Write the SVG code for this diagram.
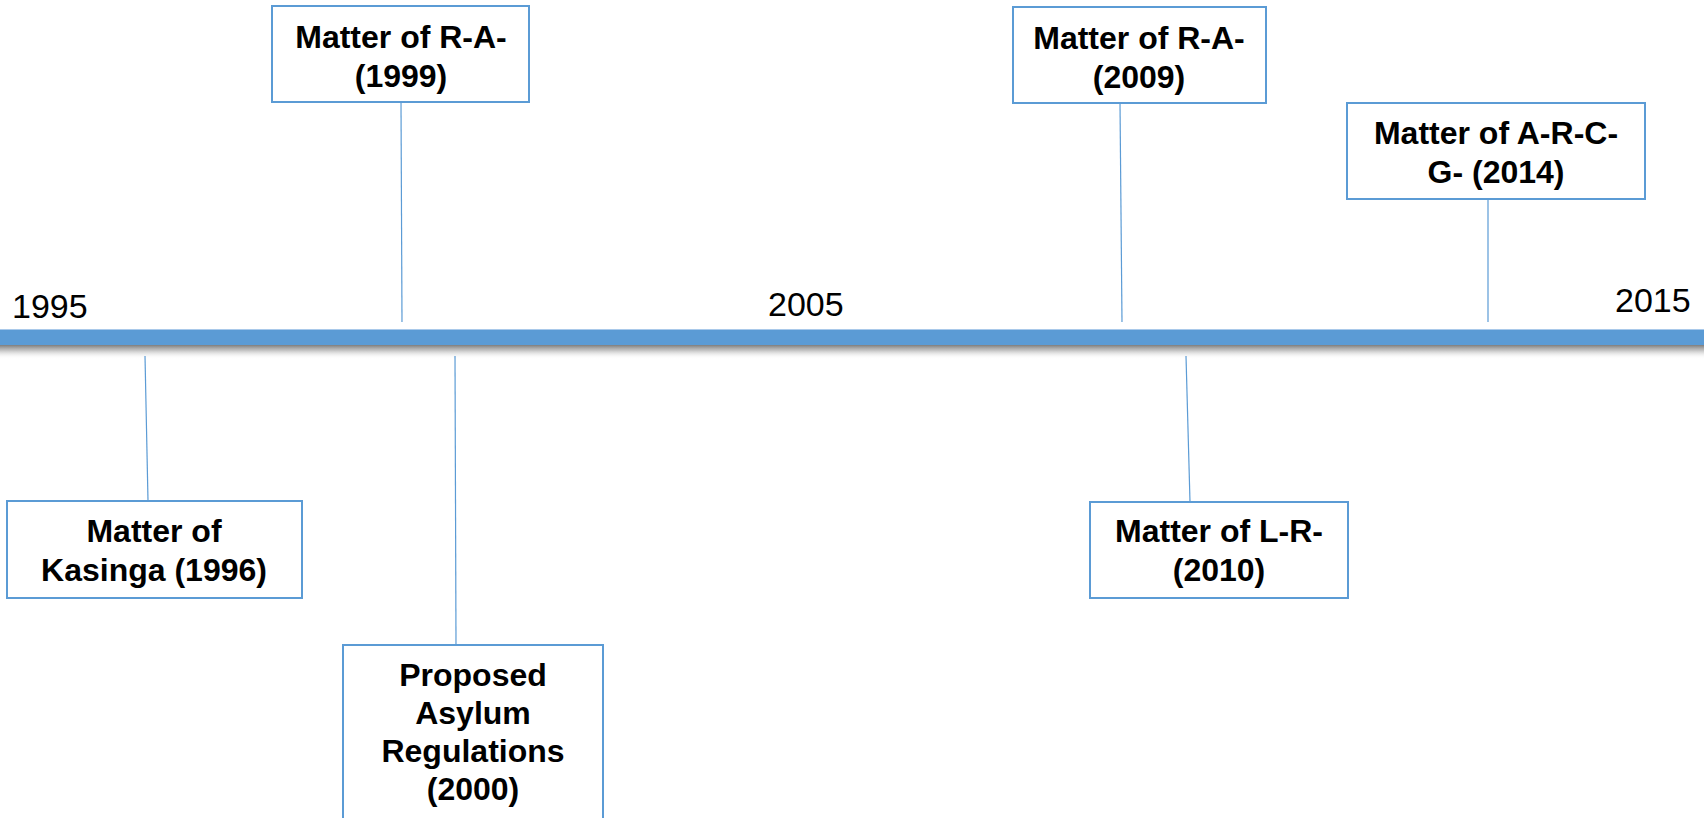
<svg xmlns="http://www.w3.org/2000/svg" width="1704" height="818" viewBox="0 0 1704 818">
  <defs>
    <linearGradient id="shadow" x1="0" y1="0" x2="0" y2="1">
      <stop offset="0" stop-color="#6f6f6f" stop-opacity="0.9"/>
      <stop offset="0.4" stop-color="#a0a0a0" stop-opacity="0.6"/>
      <stop offset="1" stop-color="#ffffff" stop-opacity="0"/>
    </linearGradient>
    <style>
      .box { fill: #ffffff; stroke: #5b9bd5; stroke-width: 2; }
      .conn { stroke: #5b9bd5; stroke-width: 1.2; fill: none; }
      .lbl { font-family: "Liberation Sans", Arial, sans-serif; font-weight: bold; font-size: 32px; fill: #000000; text-anchor: middle; }
      .year { font-family: "Liberation Sans", Arial, sans-serif; font-size: 34px; fill: #000000; }
    </style>
  </defs>
  <rect x="0" y="0" width="1704" height="818" fill="#ffffff"/>

  <g id="timeline">
    <rect x="0" y="345" width="1704" height="14" fill="url(#shadow)"/>
    <rect x="0" y="329" width="1704" height="16" fill="#5b9bd5"/>
    <line x1="0" y1="329.5" x2="1704" y2="329.5" stroke="#a9c9ea" stroke-width="1"/>
    <text class="year" x="12" y="318">1995</text>
    <text class="year" x="768" y="316">2005</text>
    <text class="year" x="1615" y="312">2015</text>
  </g>

  <g id="connectors">
    <line class="conn" x1="401" y1="102" x2="402" y2="322"/>
    <line class="conn" x1="1120" y1="103" x2="1122" y2="322"/>
    <line class="conn" x1="1488" y1="199" x2="1488" y2="322"/>
    <line class="conn" x1="145" y1="356" x2="148" y2="501"/>
    <line class="conn" x1="455" y1="356" x2="456" y2="645"/>
    <line class="conn" x1="1186" y1="356" x2="1190" y2="502"/>
  </g>

  <g id="node-ra-1999">
    <rect class="box" x="272" y="6" width="257" height="96"/>
    <text class="lbl" x="401" y="48">Matter of R-A-</text>
    <text class="lbl" x="401" y="87">(1999)</text>
  </g>

  <g id="node-ra-2009">
    <rect class="box" x="1013" y="7" width="253" height="96"/>
    <text class="lbl" x="1139" y="49">Matter of R-A-</text>
    <text class="lbl" x="1139" y="88">(2009)</text>
  </g>

  <g id="node-arcg-2014">
    <rect class="box" x="1347" y="103" width="298" height="96"/>
    <text class="lbl" x="1496" y="144">Matter of A-R-C-</text>
    <text class="lbl" x="1496" y="183">G- (2014)</text>
  </g>

  <g id="node-kasinga-1996">
    <rect class="box" x="7" y="501" width="295" height="97"/>
    <text class="lbl" x="154" y="542">Matter of</text>
    <text class="lbl" x="154" y="581">Kasinga (1996)</text>
  </g>

  <g id="node-proposed-2000">
    <rect class="box" x="343" y="645" width="260" height="180"/>
    <text class="lbl" x="473" y="686">Proposed</text>
    <text class="lbl" x="473" y="724">Asylum</text>
    <text class="lbl" x="473" y="762">Regulations</text>
    <text class="lbl" x="473" y="800">(2000)</text>
  </g>

  <g id="node-lr-2010">
    <rect class="box" x="1090" y="502" width="258" height="96"/>
    <text class="lbl" x="1219" y="542">Matter of L-R-</text>
    <text class="lbl" x="1219" y="581">(2010)</text>
  </g>
</svg>
